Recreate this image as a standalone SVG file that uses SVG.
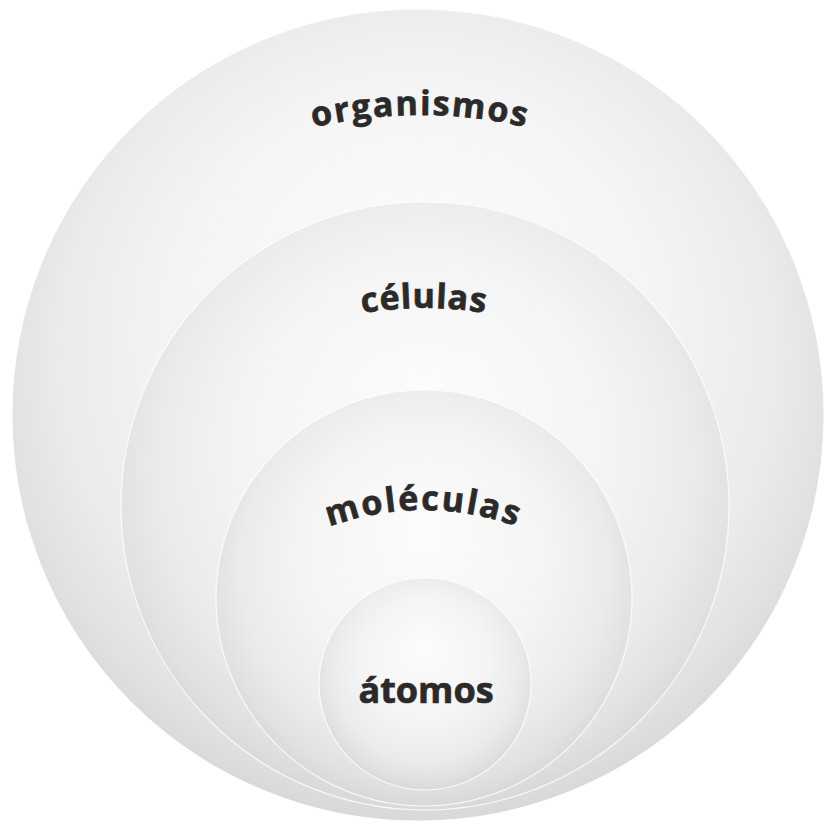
<svg xmlns="http://www.w3.org/2000/svg" width="827" height="828" viewBox="0 0 827 828">
  <defs>
    <radialGradient id="sphere" cx="0.5" cy="0.45" r="0.55" fx="0.5" fy="0.32">
      <stop offset="0" stop-color="#fcfcfc"/>
      <stop offset="0.55" stop-color="#f4f4f5"/>
      <stop offset="0.8" stop-color="#eaebec"/>
      <stop offset="0.93" stop-color="#dfe1e3"/>
      <stop offset="1" stop-color="#d6d8da"/>
    </radialGradient>
    <path id="arcOrg" d="M121.1,223.8 A465,465 0 0 1 718.9,223.8"/>
    <path id="arcCel" d="M183,395.7 A375,375 0 0 1 665,395.7"/>
    <path id="arcMol" d="M231.2,589.7 A272,272 0 0 1 615.8,589.7"/>
  </defs>
  <style>
    .ball { fill: url(#sphere); stroke: #ffffff; stroke-opacity: 0.8; stroke-width: 1.2; }
    .lbl { font-family: "Open Sans", "DejaVu Sans", sans-serif; font-weight: bold; fill: #2a2a2a; stroke: #2a2a2a; stroke-width: 0.7; text-anchor: middle; }
  </style>
  <rect width="827" height="828" fill="#ffffff"/>
  <g id="organismos">
    <circle class="ball" cx="418" cy="415" r="406"/>
    <text class="lbl" font-size="34" letter-spacing="1.8"><textPath href="#arcOrg" startOffset="50%">organismos</textPath></text>
  </g>
  <g id="celulas">
    <circle class="ball" cx="425" cy="506" r="304"/>
    <text class="lbl" font-size="34" letter-spacing="0.8"><textPath href="#arcCel" startOffset="50%">células</textPath></text>
  </g>
  <g id="moleculas">
    <circle class="ball" cx="424" cy="598" r="208"/>
    <text class="lbl" font-size="34" letter-spacing="2.2"><textPath href="#arcMol" startOffset="50%">moléculas</textPath></text>
  </g>
  <g id="atomos">
    <circle class="ball" cx="425" cy="684" r="106"/>
    <text class="lbl" x="426" y="703" font-size="36">átomos</text>
  </g>
</svg>
